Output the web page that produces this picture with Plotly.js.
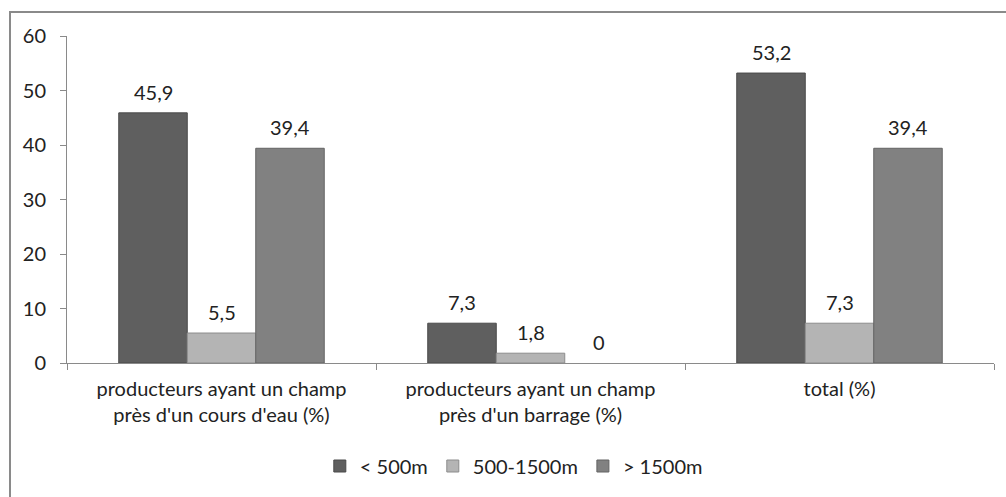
<!DOCTYPE html>
<html>
<head>
<meta charset="utf-8">
<script src="https://cdn.plot.ly/plotly-3.0.1.min.js"></script>
<style>
  html, body { margin: 0; padding: 0; background: #fff; overflow: hidden; }
  #frame { position: absolute; left: 9px; top: 11px; width: 1100px; height: 600px; border: 2px solid #8a8a8a; box-sizing: border-box; }
  #chart { position: absolute; left: 0; top: 0; width: 1006px; height: 497px; }
</style>
</head>
<body>
<div id="frame"></div>
<div id="chart"></div>
<script>
const categories = [
  "producteurs ayant un champ<br>près d'un cours d'eau (%)",
  "producteurs ayant un champ<br>près d'un barrage (%)",
  "total (%)"
];
const seriesNames = ["< 500m", "500-1500m", "> 1500m"];
const lt500 = [45.9, 7.3, 53.2];
const mid500to1500 = [5.5, 1.8, 7.3];
const gt1500 = [39.4, 0, 39.4];
const seriesValues = [lt500, mid500to1500, gt1500];
const seriesColors = ["#5f5f5f", "#b4b4b4", "#818181"];
const lineColors = ["#4a4a4a", "#8c8c8c", "#636363"];

const FONT = "Lato, 'Open Sans', sans-serif";
const FS = 20;

const traces = seriesValues.map((vals, i) => ({
  type: "bar",
  name: seriesNames[i],
  x: categories,
  y: vals,
  marker: {
    color: seriesColors[i],
    line: { color: lineColors[i], width: vals.map(v => (v === 0 ? 0 : 1)) }
  },
  offsetgroup: String(i),
  hoverinfo: "skip"
}));

const fmt = v => String(v).replace(".", ",");
const annotations = [];
seriesValues.forEach((vals, i) => {
  vals.forEach((v, j) => {
    annotations.push({
      x: categories[j], y: v, xref: "x", yref: "y",
      text: fmt(v), showarrow: false,
      xshift: (i - 1) * 68.5, yshift: 21,
      font: { family: FONT, size: FS, color: "#222" }
    });
  });
});

const layout = {
  width: 1006, height: 497,
  margin: { l: 67, r: 12, t: 36, b: 134 },
  paper_bgcolor: "rgba(0,0,0,0)",
  plot_bgcolor: "rgba(0,0,0,0)",
  font: { family: FONT, size: FS, color: "#222" },
  barmode: "group",
  bargap: 0.335,
  bargroupgap: 0,
  separators: ", ",
  xaxis: {
    type: "category",
    showline: true, linecolor: "#8a8a8a", linewidth: 1,
    ticks: "outside", tickson: "boundaries", ticklen: 6, tickcolor: "#8a8a8a",
    ticklabelstandoff: 8,
    showgrid: false, zeroline: false,
    tickfont: { family: FONT, size: FS, color: "#222" }
  },
  yaxis: {
    range: [0, 60], tickvals: [0, 10, 20, 30, 40, 50, 60],
    showline: true, linecolor: "#8a8a8a", linewidth: 1,
    ticks: "outside", ticklen: 6, tickcolor: "#8a8a8a",
    ticklabelstandoff: 10,
    showgrid: false, zeroline: false,
    tickfont: { family: FONT, size: FS, color: "#222" }
  },
  legend: {
    orientation: "h", x: 0.482, xanchor: "center", y: -0.315, yanchor: "middle",
    font: { family: FONT, size: FS, color: "#222" },
    itemwidth: 30, traceorder: "normal"
  },
  annotations: annotations,
  showlegend: true
};

Plotly.newPlot("chart", traces, layout, { displayModeBar: false, staticPlot: true });
</script>
</body>
</html>
